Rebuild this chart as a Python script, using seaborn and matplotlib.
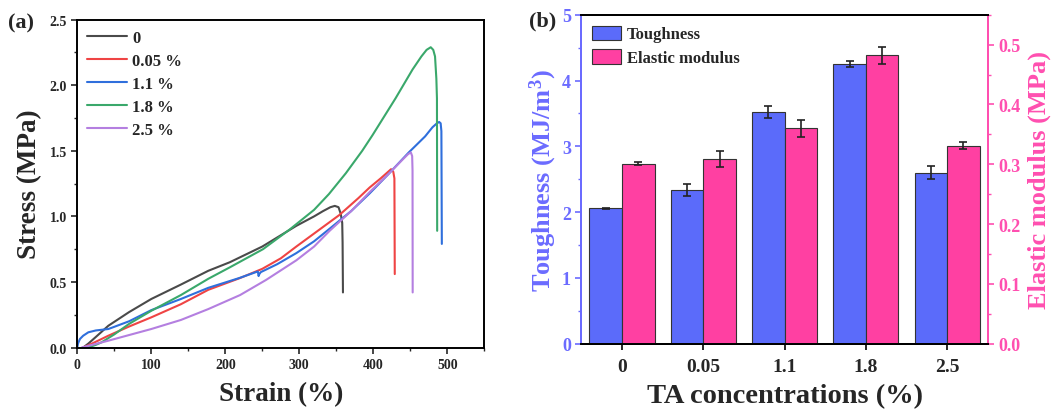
import numpy as np
import pandas as pd
import matplotlib
matplotlib.use("Agg")
import matplotlib.pyplot as plt
from matplotlib.ticker import MultipleLocator
from matplotlib.patches import Patch
import seaborn as sns

# ---------------- data: panel (a) stress-strain curves ----------------
black_strain = [8, 15, 25, 42, 70, 100, 140, 177, 206, 250, 296, 320, 332, 342, 348, 353, 356, 358, 358.5, 359]
black_stress = [0, 0.03, 0.08, 0.166, 0.27, 0.37, 0.48, 0.585, 0.65, 0.77, 0.928, 1.0, 1.04, 1.07, 1.08, 1.07, 1.02, 0.95, 0.8, 0.42]

red_strain = [8, 20, 42, 70, 100, 140, 177, 220, 250, 275, 296, 325, 354, 380, 395, 410, 420, 424, 427, 428.5, 429]
red_stress = [0, 0.03, 0.09, 0.16, 0.23, 0.33, 0.44, 0.53, 0.6, 0.68, 0.77, 0.89, 1.01, 1.14, 1.22, 1.29, 1.34, 1.36, 1.34, 1.29, 0.56]

blue_strain = [0, 1, 3.6, 8, 15, 25, 42, 70, 100, 140, 177, 219, 244, 245, 246, 248, 270, 296, 320, 341, 370, 395, 420, 448,
               470, 480, 486, 489, 491, 492, 492.6]
blue_stress = [0, 0.03, 0.065, 0.09, 0.116, 0.13, 0.141, 0.2, 0.285, 0.37, 0.455, 0.53, 0.58, 0.545, 0.56, 0.575, 0.635,
               0.72, 0.81, 0.906, 1.04, 1.175, 1.32, 1.488, 1.61, 1.68, 1.71, 1.72, 1.71, 1.65, 0.79]

green_strain = [15, 25, 33, 50, 70, 100, 140, 177, 206, 251, 287, 320, 340, 363, 385, 399, 430, 453, 465, 472, 477.6,
                481, 483.4, 485.2, 486, 486.3]
green_stress = [0, 0.02, 0.04, 0.1, 0.18, 0.28, 0.4, 0.524, 0.611, 0.75, 0.9, 1.05, 1.17, 1.33, 1.5, 1.62, 1.9, 2.12,
                2.22, 2.27, 2.29, 2.27, 2.22, 2.05, 1.9, 0.89]

purple_strain = [6, 20, 42, 70, 100, 140, 177, 220, 255, 296, 320, 341, 370, 395, 420, 439, 447, 450.7, 452.5, 453, 453.2]
purple_stress = [0, 0.02, 0.052, 0.095, 0.141, 0.21, 0.293, 0.4, 0.515, 0.665, 0.77, 0.89, 1.04, 1.185, 1.32, 1.43,
                 1.475, 1.488, 1.46, 1.35, 0.42]

curve_labels = ["0", "0.05 %", "1.1 %", "1.8 %", "2.5 %"]
curve_colors = ["#4a4a4a", "#ef4444", "#2f6fdc", "#3aa86b", "#b47fe0"]

# ---------------- data: panel (b) bars ----------------
concentrations = ["0", "0.05", "1.1", "1.8", "2.5"]
toughness = [2.06, 2.33, 3.52, 4.25, 2.60]
toughness_err = [0.01, 0.09, 0.09, 0.05, 0.10]
modulus = [0.301, 0.309, 0.360, 0.482, 0.331]
modulus_err = [0.002, 0.013, 0.014, 0.014, 0.006]

# ---------------- style ----------------
sns.set_style("ticks")
plt.rcParams["font.family"] = ["Liberation Serif", "DejaVu Serif"]
plt.rcParams["font.weight"] = "bold"
plt.rcParams["axes.labelweight"] = "bold"
plt.rcParams["mathtext.fontset"] = "custom"
plt.rcParams["mathtext.rm"] = "Liberation Serif:bold"
plt.rcParams["mathtext.it"] = "Liberation Serif:bold"
plt.rcParams["mathtext.bf"] = "Liberation Serif:bold"

fig = plt.figure(figsize=(10.57, 4.14), dpi=100)
ax1 = fig.add_axes([0.0731, 0.1582, 0.3851, 0.7918])
ax2 = fig.add_axes([0.550, 0.1674, 0.3845, 0.7946])

# ---------------- panel (a) ----------------
curves = [(black_strain, black_stress), (red_strain, red_stress), (blue_strain, blue_stress),
          (green_strain, green_stress), (purple_strain, purple_stress)]
for (xs, ys), lab, col in zip(curves, curve_labels, curve_colors):
    df = pd.DataFrame({"strain": xs, "stress": ys})
    sns.lineplot(data=df, x="strain", y="stress", ax=ax1, sort=False, estimator=None,
                 color=col, lw=1.5, label=lab)

ax1.set_xlim(0, 550)
ax1.set_ylim(0, 2.5)
ax1.xaxis.set_major_locator(MultipleLocator(100))
ax1.xaxis.set_minor_locator(MultipleLocator(50))
ax1.yaxis.set_major_locator(MultipleLocator(0.5))
ax1.yaxis.set_minor_locator(MultipleLocator(0.25))
ax1.yaxis.set_major_formatter(matplotlib.ticker.FormatStrFormatter("%.1f"))
ax1.tick_params(which="major", direction="out", length=4, width=1.2, labelsize=10)
ax1.tick_params(which="minor", direction="out", length=2.5, width=1.0)
for s in ax1.spines.values():
    s.set_visible(True)
    s.set_linewidth(1.4)
    s.set_color("black")
ax1.set_xlabel("Strain (%)", fontsize=19.5, fontweight="bold", labelpad=7)
ax1.set_ylabel("Stress (MPa)", fontsize=19.5, fontweight="bold", labelpad=5)
ax1.legend(loc="upper left", frameon=False, handlelength=2.4,
           handletextpad=0.3, labelspacing=0.42, borderaxespad=0.2,
           prop={"weight": "bold", "size": 12})
fig.text(0.008, 0.93, "(a)", fontsize=16, fontweight="bold")

# ---------------- panel (b) ----------------
blue_c = "#5b6bfa"
pink_c = "#ff40a2"
axis_blue = "#6b6bff"
axis_pink = "#ff4fb0"
order = ["Toughness", "Elastic modulus"]

df_t = pd.DataFrame({"conc": concentrations, "value": toughness, "series": "Toughness"})
df_m = pd.DataFrame({"conc": concentrations, "value": modulus, "series": "Elastic modulus"})

ax2r = ax2.twinx()
sns.barplot(data=df_t, x="conc", y="value", hue="series", hue_order=order, order=concentrations,
            palette={"Toughness": blue_c, "Elastic modulus": pink_c}, dodge=True, width=0.8,
            edgecolor="#333333", linewidth=0.8, ax=ax2, legend=False, errorbar=None, saturation=1)
sns.barplot(data=df_m, x="conc", y="value", hue="series", hue_order=order, order=concentrations,
            palette={"Toughness": blue_c, "Elastic modulus": pink_c}, dodge=True, width=0.8,
            edgecolor="#333333", linewidth=0.8, ax=ax2r, legend=False, errorbar=None, saturation=1)

tx = [p.get_x() + p.get_width() / 2 for p in ax2.patches][:len(toughness)]
mx = [p.get_x() + p.get_width() / 2 for p in ax2r.patches][:len(modulus)]
ax2.errorbar(tx, toughness, yerr=toughness_err, fmt="none", ecolor="#222222", elinewidth=1.2,
             capsize=3, capthick=1.2, zorder=5)
ax2r.errorbar(mx, modulus, yerr=modulus_err, fmt="none", ecolor="#222222", elinewidth=1.2,
              capsize=3, capthick=1.2, zorder=5)

ax2.set_xlim(-0.5, 4.5)
ax2.set_ylim(0, 5)
ax2r.set_ylim(0, 0.55)
ax2.yaxis.set_major_locator(MultipleLocator(1))
ax2.yaxis.set_minor_locator(MultipleLocator(0.5))
ax2r.yaxis.set_major_locator(MultipleLocator(0.1))
ax2r.yaxis.set_minor_locator(MultipleLocator(0.05))
ax2r.yaxis.set_major_formatter(matplotlib.ticker.FormatStrFormatter("%.1f"))

ax2.tick_params(axis="x", which="major", direction="out", length=4, width=1.4, labelsize=14, pad=6)
ax2.tick_params(axis="y", which="major", direction="out", length=4, width=1.2, labelsize=13,
                colors=axis_blue)
ax2.tick_params(axis="y", which="minor", direction="out", length=2.5, width=1.0, colors=axis_blue)
ax2r.tick_params(axis="y", which="major", direction="out", length=4, width=1.2, labelsize=13,
                 colors=axis_pink)
ax2r.tick_params(axis="y", which="minor", direction="out", length=2.5, width=1.0, colors=axis_pink)

for a in (ax2, ax2r):
    for s in a.spines.values():
        s.set_visible(True)
        s.set_linewidth(1.4)
    a.spines["top"].set_color("black")
    a.spines["bottom"].set_color("black")
    a.spines["left"].set_color(axis_blue)
    a.spines["right"].set_color(axis_pink)

ax2.set_xlabel("TA concentrations (%)", fontsize=20.5, fontweight="bold", labelpad=6)
ax2.set_ylabel("Toughness (MJ/m$^3$)", fontsize=19, fontweight="bold", color=axis_blue, labelpad=2)
ax2r.set_ylabel("Elastic modulus (MPa)", fontsize=19, fontweight="bold", color=axis_pink, labelpad=5)

handles = [Patch(facecolor=blue_c, edgecolor="#333333", lw=0.8, label="Toughness"),
           Patch(facecolor=pink_c, edgecolor="#333333", lw=0.8, label="Elastic modulus")]
ax2.legend(handles=handles, loc="upper left", frameon=False, prop={"weight": "bold", "size": 12},
           handlelength=1.7, handleheight=0.95, handletextpad=0.4, labelspacing=0.4, borderaxespad=0.25)
fig.text(0.500, 0.935, "(b)", fontsize=16, fontweight="bold")

fig.savefig("out.png", dpi=100)
